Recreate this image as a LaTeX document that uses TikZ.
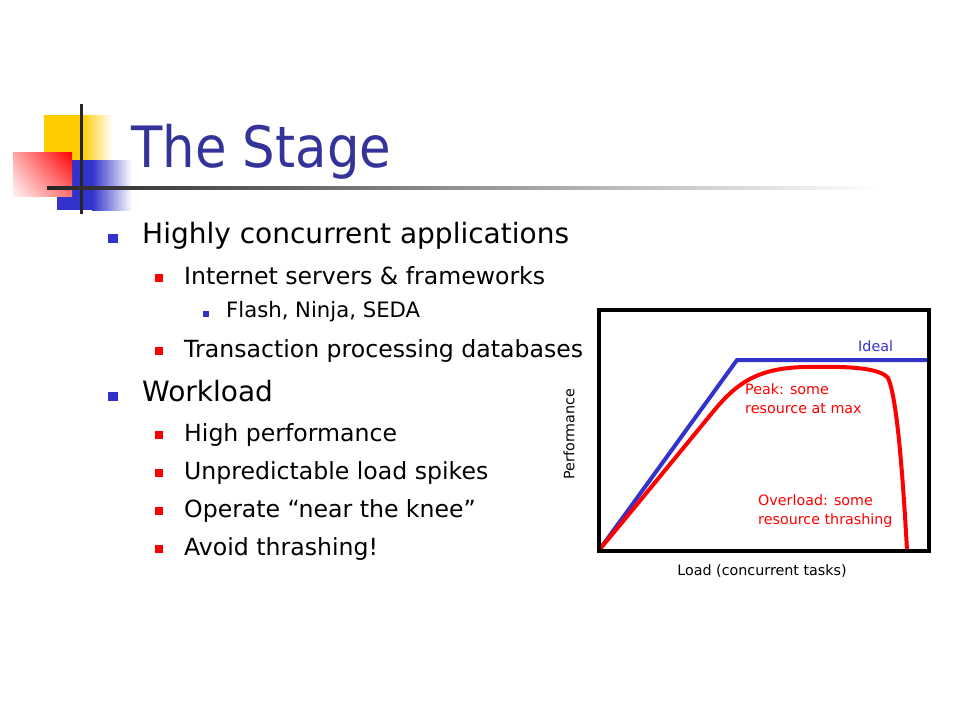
\documentclass[tikz,border=0pt]{standalone}
\usepackage{fontspec}
\usetikzlibrary{shadings}
\setmainfont{DejaVu Sans}
\newfontfamily\titlefont[FakeStretch=0.9]{DejaVu Sans}
\definecolor{titleblue}{HTML}{333399}
\definecolor{bulblue}{HTML}{3333CC}
\definecolor{logoyel}{HTML}{FFCC00}
\begin{document}
\begin{tikzpicture}[x=1pt,y=-1pt,
  lone/.style={anchor=base west,inner sep=0pt,font=\fontsize{28}{28}\selectfont},
  ltwo/.style={anchor=base west,inner sep=0pt,font=\fontsize{23.6}{24}\selectfont},
  lthree/.style={anchor=base west,inner sep=0pt,font=\fontsize{21.2}{21}\selectfont},
  chartlbl/.style={inner sep=0pt,font=\fontsize{14.3}{19}\selectfont,align=left},
  bone/.style={fill=bulblue},
  btwo/.style={fill=red},
]
\useasboundingbox (0,0) rectangle (960,720);
\fill[white] (0,0) rectangle (960,720);
% logo
\fill[logoyel] (44,115) rectangle (82,162);
\shade[left color=logoyel,right color=white] (82,115) rectangle (112,162);
\fill[bulblue] (57,160) rectangle (92,210);
\shade[left color=bulblue,right color=white] (92,160) rectangle (132,210);
\shade[upper left=red!35,upper right=red,lower left=red!5,lower right=red!55] (13,152) rectangle (72,196);
\fill[black!85] (80,104) rectangle (82.5,214);
\shade[left color=black!85,right color=white] (47,186.5) rectangle (880,189.5);
% title
\node[anchor=base west,inner sep=0pt,text=titleblue,font=\titlefont\fontsize{57}{57}\selectfont] (title) at (131,167) {The Stage};
% bullets
\fill[bone] (108,234) rectangle (118,243);
\node[lone] (b1) at (142,243) {Highly concurrent applications};
\fill[btwo] (155,274) rectangle (163,282);
\node[ltwo] (b2) at (184,284) {Internet servers \& frameworks};
\fill[bone] (203,311) rectangle (209,317);
\node[lthree] (b3) at (226,317) {Flash, Ninja, SEDA};
\fill[btwo] (155,347) rectangle (163,355);
\node[ltwo] (b4) at (184,357) {Transaction processing databases};
\fill[bone] (108,392) rectangle (118,401);
\node[lone] (b5) at (142,401) {Workload};
\fill[btwo] (155,431) rectangle (163,439);
\node[ltwo] (b6) at (184,441) {High performance};
\fill[btwo] (155,469) rectangle (163,477);
\node[ltwo] (b7) at (184,479) {Unpredictable load spikes};
\fill[btwo] (155,507) rectangle (163,515);
\node[ltwo] (b8) at (184,517) {Operate “near the knee”};
\fill[btwo] (155,545) rectangle (163,553);
\node[ltwo] (b9) at (184,555) {Avoid thrashing!};
% chart
\coordinate (o) at (600,549);
\coordinate (k) at (737,360);
\coordinate (e) at (928,360);
\draw[bulblue,line width=4pt] (o) -- (k) -- (e);
\draw[red,line width=4pt,line join=round]
  (o) .. controls (640,501) and (680,452) .. (712,413)
      .. controls (735,385) and (755,368) .. (805,367)
      .. controls (850,366) and (880,368) .. (888,378)
      .. controls (896,395) and (902,460) .. (907,550);
\draw[black,line width=4pt] (599,310) rectangle (929,551);
\node[chartlbl,text=bulblue,anchor=west] (ideal) at (858,346) {Ideal};
\node[chartlbl,text=red,anchor=north west] (peak) at (745,383) {Peak: some\\resource at max};
\node[chartlbl,text=red,anchor=north west] (over) at (758,494) {Overload: some\\resource thrashing};
\node[chartlbl,anchor=center] (xl) at (762,571) {Load (concurrent tasks)};
\node[chartlbl,anchor=center,rotate=90] (yl) at (569,434) {Performance};
\end{tikzpicture}
\end{document}
